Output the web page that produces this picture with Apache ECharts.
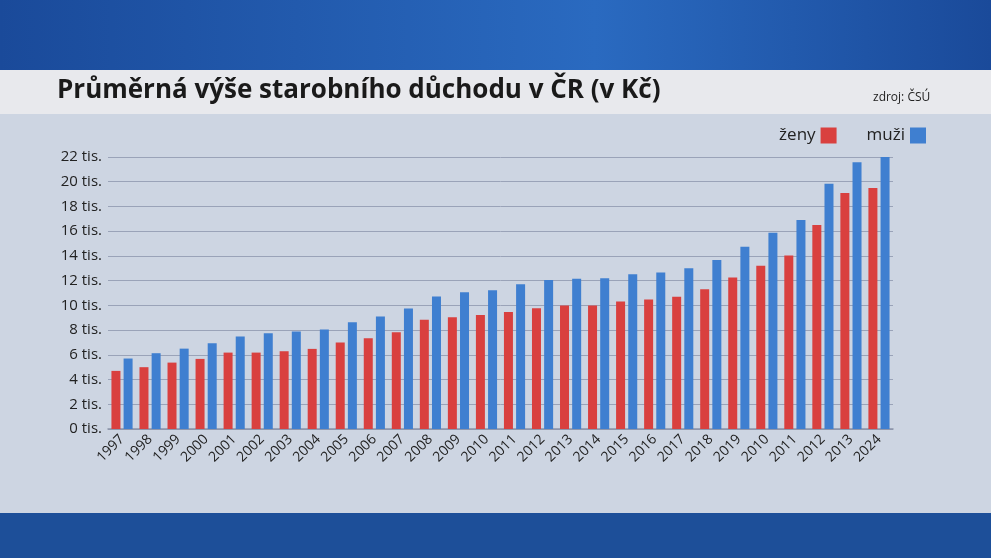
<!DOCTYPE html>
<html><head><meta charset="utf-8">
<script src="https://cdn.jsdelivr.net/npm/echarts@6/dist/echarts.min.js"></script>
<style>html,body{margin:0;padding:0}#c{width:991px;height:558px}</style>
</head><body><div id="c"></div>
<script>
const categories = ['1997','1998','1999','2000','2001','2002','2003','2004','2005','2006','2007','2008','2009','2010','2011','2012','2013','2014','2015','2016','2017','2018','2019','2010','2011','2012','2013','2024'];
const zeny = [4700,5000,5370,5670,6180,6180,6290,6480,6990,7340,7830,8830,9040,9230,9470,9770,9990,9990,10310,10470,10690,11310,12250,13200,14040,16490,19080,19490];
const muzi = [5700,6130,6500,6940,7480,7750,7880,8040,8640,9100,9740,10720,11070,11230,11710,12060,12150,12200,12520,12660,13010,13660,14740,15870,16900,19840,21570,22000];
const yTicks = [0,2000,4000,6000,8000,10000,12000,14000,16000,18000,20000,22000];

const chart = echarts.init(document.getElementById('c'));
chart.setOption({
  animation:false,
  backgroundColor:'#1c4f9c',
  graphic:[
    {type:'rect',z:-10,shape:{x:0,y:0,width:991,height:70},style:{fill:new echarts.graphic.LinearGradient(0,0,1,0,[{offset:0,color:'#1a4a9a'},{offset:0.6,color:'#2a6ac0'},{offset:1,color:'#1a4a9a'}])}},
    {type:'rect',z:-10,shape:{x:0,y:70,width:991,height:44},style:{fill:'#e8e9ed'}},
    {type:'rect',z:-10,shape:{x:0,y:114,width:991,height:399},style:{fill:'#cdd5e2'}},
    {type:'rect',z:-10,shape:{x:0,y:513,width:991,height:45},style:{fill:'#1d4f99'}},
    {type:'text',left:57,top:78,style:{text:'Průměrná výše starobního důchodu v ČR (v Kč)',font:'bold 26px "Open Sans", sans-serif',fill:'#1a1a1a'}},
    {type:'text',left:873,top:92,style:{text:'zdroj: ČSÚ',font:'12px "Open Sans", sans-serif',fill:'#222'}}
  ],
  legend:{right:60,top:122,itemWidth:16,itemHeight:16,itemGap:30,icon:'rect',align:'right',
    textStyle:{fontSize:17,color:'#222',fontFamily:'"Open Sans", sans-serif'},
    data:['ženy','muži']},
  grid:{left:108,right:98,top:157,bottom:129},
  xAxis:{type:'category',data:categories,
    axisLine:{lineStyle:{color:'#8a93a8',width:1.5}},axisTick:{show:false},
    axisLabel:{rotate:45,interval:0,fontSize:14,color:'#222',fontFamily:'"Open Sans", sans-serif',margin:8}},
  yAxis:{type:'value',min:0,max:22000,interval:2000,
    axisLine:{show:false},axisTick:{show:false},
    splitLine:{lineStyle:{color:'#9aa3b8',width:1}},
    axisLabel:{fontSize:15,color:'#222',fontFamily:'"Open Sans", sans-serif',margin:6,
      formatter:v=>yTicks.indexOf(v)>=0?(v/1000)+' tis.':''}},
  series:[
    {name:'ženy',type:'bar',data:zeny,itemStyle:{color:'#d9403f'},barWidth:9,barGap:'35%'},
    {name:'muži',type:'bar',data:muzi,itemStyle:{color:'#3f7fd0'},barWidth:9}
  ]
});
</script></body></html>
